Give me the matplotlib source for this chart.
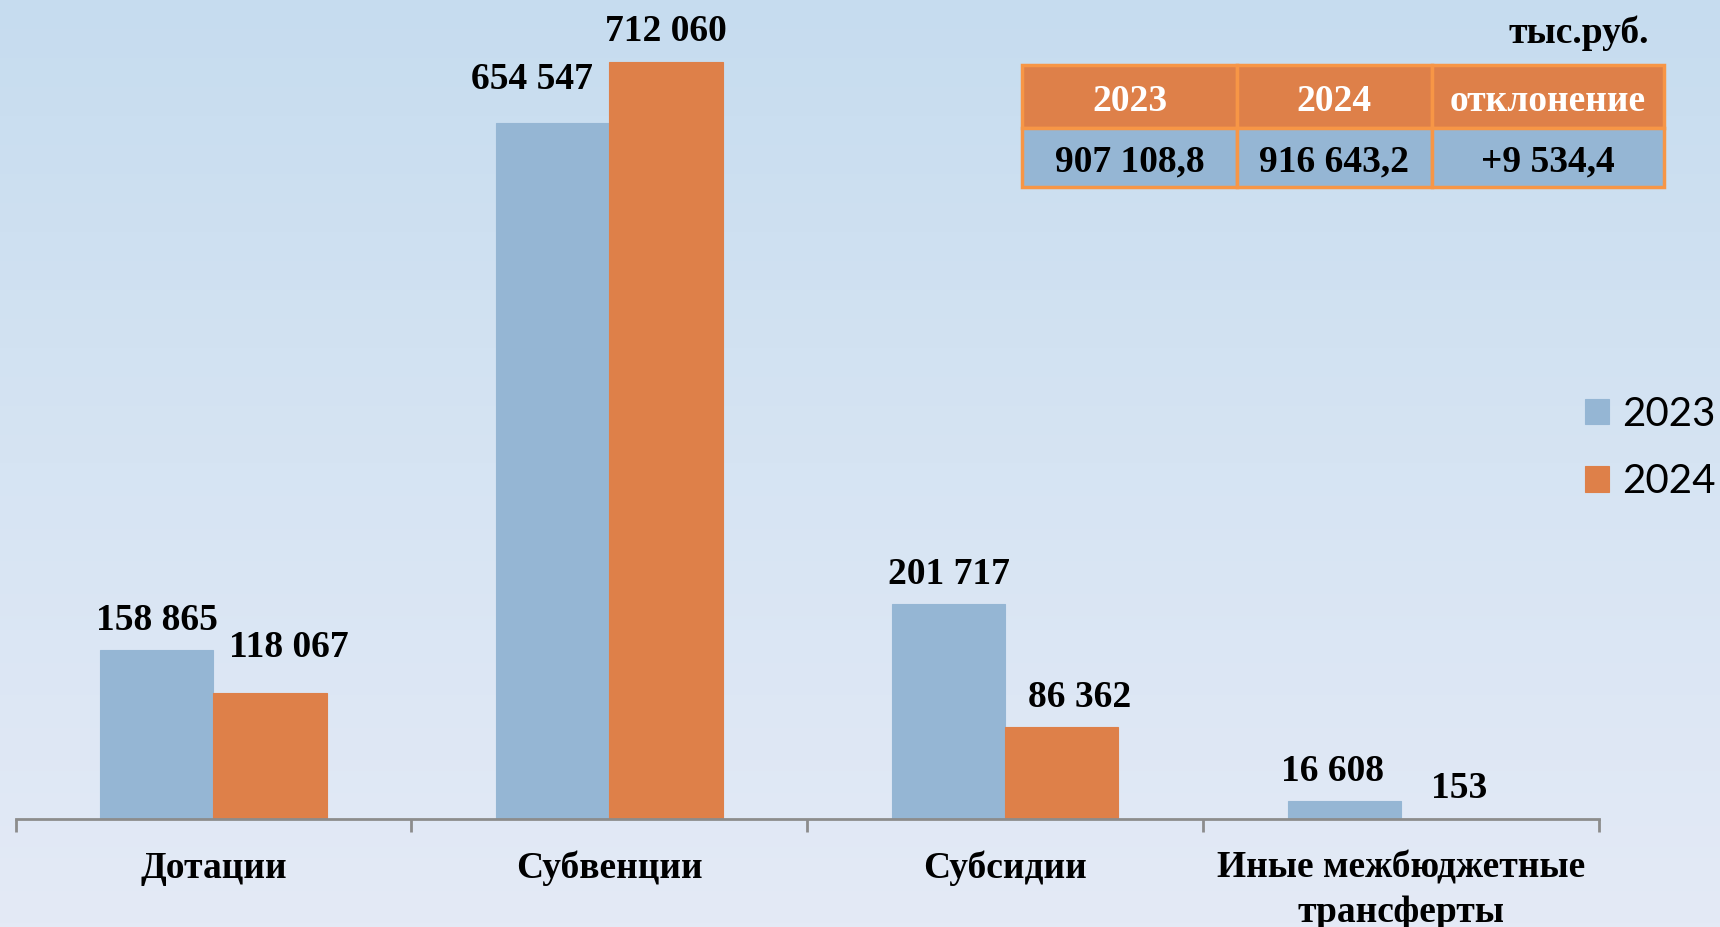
import numpy as np
import matplotlib
matplotlib.use("Agg")
import matplotlib.pyplot as plt
from matplotlib.colors import LinearSegmentedColormap
from matplotlib.transforms import Affine2D

# ---- data ----
categories = ["Дотации", "Субвенции", "Субсидии", "Иные межбюджетные\nтрансферты"]
series_names = ["2023", "2024"]
values_2023 = [158865, 654547, 201717, 16608]
values_2024 = [118067, 712060, 86362, 153]
table_header = ["2023", "2024", "отклонение"]
table_values = ["907 108,8", "916 643,2", "+9 534,4"]
unit_label = "тыс.руб."

# ---- style ----
BLUE = "#95B6D4"
ORANGE = "#DE8049"
SERIF = ["Liberation Serif", "DejaVu Serif"]
W, H = 1720, 927
DPI = 100

def fmt(v):
    return f"{v:,}".replace(",", " ")

fig = plt.figure(figsize=(W / DPI, H / DPI), dpi=DPI)

# background gradient
bg = fig.add_axes([0, 0, 1, 1], zorder=-10)
cmap = LinearSegmentedColormap.from_list("bg", ["#C6DCEF", "#D6E4F3", "#E4EAF6"])
grad = np.linspace(0, 1, 256).reshape(-1, 1)
bg.imshow(grad, aspect="auto", cmap=cmap, extent=[0, 1, 0, 1], origin="upper")
bg.set_axis_off()

# main axes
left = 15.5 / W
right = 1599 / W
bottom = (H - 819) / H
ax = fig.add_axes([left, bottom, right - left, 1 - bottom])
ax.set_facecolor("none")

x = np.arange(len(categories))
bw = 0.286
b1 = ax.bar(x - bw / 2, values_2023, bw, color=BLUE, edgecolor=BLUE, linewidth=0.8, label=series_names[0])
b2 = ax.bar(x + bw / 2, values_2024, bw, color=ORANGE, edgecolor=ORANGE, linewidth=0.8, label=series_names[1])

ax.set_xlim(-0.5, len(categories) - 0.5)
ax.set_ylim(0, 770000)

# data labels (pixel nudges to mimic the original placement)
nudge_2023 = [(0, 30), (-21, 43), (0, 30), (-12, 30)]
nudge_2024 = [(19, 46), (0, 30), (18, 30), (1, 30)]
for bars, vals, nudges in ((b1, values_2023, nudge_2023), (b2, values_2024, nudge_2024)):
    for rect, v, (dx, dy) in zip(bars, vals, nudges):
        ax.annotate(fmt(v), (rect.get_x() + rect.get_width() / 2, v),
                    xytext=(dx, dy), textcoords="offset pixels",
                    ha="center", va="center", fontsize=27, fontweight="bold",
                    family=SERIF, color="black")

# axes styling
for s in ("top", "right", "left"):
    ax.spines[s].set_visible(False)
ax.spines["bottom"].set_color("#8C8C8C")
ax.spines["bottom"].set_linewidth(2)
ax.set_yticks([])
ax.set_xticks(x)
ax.set_xticklabels(categories, fontsize=27, fontweight="bold", family=SERIF, linespacing=1.32)
ax.tick_params(axis="x", which="major", length=0, pad=23)
ax.set_xticks(np.arange(-0.5, len(categories), 1.0), minor=True)
ax.tick_params(axis="x", which="minor", length=9, width=2, color="#8C8C8C")

# legend
ax.legend(loc="center left", bbox_to_anchor=(1585 / W, 1 - 448 / H),
          bbox_transform=fig.transFigure, frameon=False,
          prop={"family": ["Lato", "DejaVu Sans"], "size": 29},
          handlelength=0.6, handleheight=0.6, handletextpad=0.32,
          labelspacing=0.76, borderpad=0, borderaxespad=0)

# unit label
fig.text(1649 / W, 1 - 33 / H, unit_label, ha="right", va="center",
         fontsize=27, fontweight="bold", family=SERIF)

# summary table
tl, tr, tt, tb = 1022, 1664, 65, 186.5
tax = fig.add_axes([tl / W, 1 - tb / H, (tr - tl) / W, (tb - tt) / H])
tax.set_axis_off()
colw = np.array([215, 194.5, 232.5])
colw = colw / colw.sum()
tbl = tax.table(cellText=[table_values], colLabels=table_header,
                cellLoc="center", colWidths=list(colw), bbox=[0, 0, 1, 1])
tbl.auto_set_font_size(False)
for (r, c), cell in tbl.get_celld().items():
    cell.set_edgecolor("#F79646")
    cell.set_linewidth(2.5)
    txt = cell.get_text()
    txt.set_fontsize(27)
    txt.set_fontweight("bold")
    txt.set_fontfamily(SERIF)
    txt.set_transform(Affine2D().translate(0, -5))
    if r == 0:
        cell.set_facecolor(ORANGE)
        txt.set_color("white")
        cell.set_height(63 / 121.5)
    else:
        cell.set_facecolor(BLUE)
        txt.set_color("black")
        cell.set_height(58.5 / 121.5)

fig.savefig("out.png", dpi=DPI)
